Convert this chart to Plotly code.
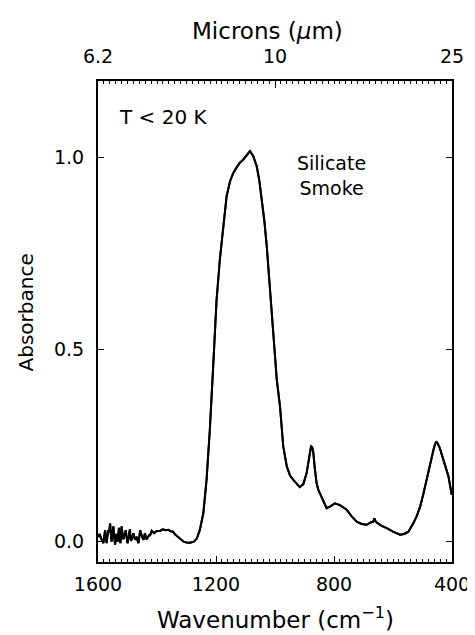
import plotly.graph_objects as go

# Spectrum (wavenumber cm^-1, absorbance)
wavenumber = [1599, 1594, 1590, 1586, 1582, 1579, 1576, 1573, 1571, 1568, 1565, 1562, 1559, 1556, 1554,
              1551, 1548, 1545, 1542, 1540, 1538, 1535, 1533, 1531, 1529, 1526, 1524, 1522, 1520, 1517,
              1514, 1510, 1506, 1503, 1500, 1496, 1492, 1490, 1488, 1484, 1480, 1477, 1474, 1471, 1469,
              1466, 1463, 1460, 1457, 1452, 1446, 1443, 1441, 1438, 1435, 1432, 1429, 1426, 1424, 1421,
              1418, 1410, 1401, 1390, 1380, 1370, 1362, 1356, 1346, 1340, 1333, 1322, 1310, 1300, 1288,
              1275, 1265, 1255, 1243, 1232, 1221, 1209, 1198, 1187, 1176, 1164, 1152, 1141, 1130, 1119,
              1108, 1097, 1085, 1074, 1062, 1053, 1045, 1036, 1028, 1017, 1006, 994, 983, 972, 960,
              949, 938, 927, 916, 904, 893, 885, 878, 874, 870, 865, 859, 853, 848, 836,
              825, 812, 797, 780, 757, 740, 723, 706, 689, 676, 667, 663, 660, 655, 640,
              621, 600, 576, 562, 548, 540, 531, 520, 508, 497, 486, 477, 469, 461, 454,
              448, 441, 432, 424, 418, 412, 406, 401]
absorbance = [0.012, 0.020, 0.010, 0.004, -0.004, 0.012, 0.030, 0.010, -0.004, 0.014, 0.030, 0.024, 0.048, 0.016, 0.000,
              0.022, 0.040, 0.012, -0.008, 0.006, 0.020, 0.008, 0.000, 0.018, 0.036, 0.010, -0.004, 0.018, 0.040, 0.020,
              0.006, 0.018, 0.030, 0.012, -0.004, 0.012, 0.032, 0.014, 0.002, 0.010, 0.022, 0.012, 0.005, 0.010, 0.013,
              0.004, -0.004, 0.012, 0.030, 0.016, 0.005, 0.014, 0.022, 0.012, 0.006, 0.010, 0.013, 0.018, 0.015, 0.020,
              0.028, 0.022, 0.028, 0.028, 0.032, 0.030, 0.031, 0.028, 0.026, 0.020, 0.015, 0.006, 0.000, -0.002, -0.003,
              0.000, 0.008, 0.030, 0.074, 0.161, 0.291, 0.465, 0.630, 0.735, 0.822, 0.900, 0.940, 0.961, 0.975, 0.987,
              0.995, 1.005, 1.017, 1.005, 0.978, 0.940, 0.891, 0.835, 0.770, 0.665, 0.544, 0.422, 0.352, 0.248, 0.196,
              0.172, 0.161, 0.150, 0.142, 0.150, 0.178, 0.215, 0.248, 0.246, 0.231, 0.190, 0.152, 0.135, 0.126, 0.108,
              0.087, 0.092, 0.100, 0.095, 0.083, 0.066, 0.052, 0.046, 0.044, 0.050, 0.052, 0.061, 0.054, 0.050, 0.042,
              0.035, 0.026, 0.018, 0.020, 0.026, 0.036, 0.048, 0.066, 0.091, 0.125, 0.161, 0.195, 0.222, 0.245, 0.261,
              0.255, 0.243, 0.218, 0.196, 0.185, 0.170, 0.145, 0.122]

bottom_ticks = [1600, 1200, 800, 400]
top_tick_wavenumbers = [1600, 1000, 400]
top_tick_labels = ["6.2", "10", "25"]
y_ticks = [0.0, 0.5, 1.0]
y_tick_labels = ["0.0", "0.5", "1.0"]

FONT = "DejaVu Sans"

fig = go.Figure()
fig.add_trace(go.Scatter(x=wavenumber, y=absorbance, mode="lines",
                         line=dict(color="black", width=2), showlegend=False))
# second trace on the top (microns) axis so that axis is drawn
fig.add_trace(go.Scatter(x=wavenumber, y=absorbance, xaxis="x2", mode="lines",
                         line=dict(color="black", width=2), showlegend=False, hoverinfo="skip"))

fig.update_layout(
    width=467, height=627,
    margin=dict(l=90, r=23, t=73, b=73),
    paper_bgcolor="white", plot_bgcolor="white",
    font=dict(family=FONT, size=19, color="black"),
    xaxis=dict(range=[1600, 400], tickvals=bottom_ticks, ticks="inside", ticklen=6,
               tickwidth=1.2, tickcolor="black", showline=True, linecolor="black", linewidth=2,
               showgrid=False, zeroline=False, ticklabelstandoff=4, automargin=False,
               ticklabeloverflow="allow",
               minor=dict(dtick=20, tick0=400, ticks="inside", ticklen=3, tickcolor="black")),
    xaxis2=dict(range=[1600, 400], overlaying="x", side="top", tickvals=top_tick_wavenumbers,
                ticktext=top_tick_labels, ticks="inside", ticklen=7, tickcolor="black",
                showline=True, linecolor="black", linewidth=2, showgrid=False, zeroline=False,
                ticklabelstandoff=8, automargin=False, ticklabeloverflow="allow",
                minor=dict(dtick=20, tick0=400, ticks="inside", ticklen=3, tickcolor="black")),
    yaxis=dict(range=[-0.053, 1.2], tickvals=y_ticks, ticktext=y_tick_labels, ticks="inside",
               ticklen=6, tickcolor="black", showline=True, linecolor="black", linewidth=2,
               mirror="ticks", showgrid=False, zeroline=False, ticklabelstandoff=8, automargin=False),
    annotations=[
        dict(text="Microns (<i>μ</i>m)", xref="paper", yref="paper", x=0.48, y=1.0, yshift=50,
             showarrow=False, font=dict(size=23), xanchor="center", yanchor="middle"),
        dict(text="Wavenumber (cm<sup>−1</sup>)", xref="paper", yref="paper", x=0.5, y=0, yshift=-56,
             showarrow=False, font=dict(size=23), xanchor="center", yanchor="middle"),
        dict(text="Absorbance", xref="paper", yref="paper", x=0, xshift=-73, y=0.5, yshift=9,
             textangle=-90, showarrow=False, font=dict(size=20), xanchor="center", yanchor="middle"),
        dict(text="T &lt; 20 K", xref="x", yref="y", x=1535, y=1.105, showarrow=False,
             font=dict(size=20), xanchor="left", yanchor="middle"),
        dict(text="Silicate<br>Smoke", xref="x", yref="y", x=810, y=0.955, showarrow=False,
             font=dict(size=19), xanchor="center", yanchor="middle", align="center"),
    ],
)

fig.write_html("out.html")
